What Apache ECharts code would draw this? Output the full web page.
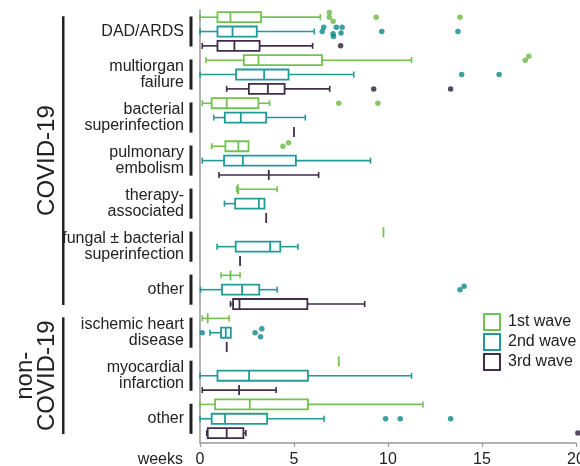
<!DOCTYPE html>
<html>
<head>
<meta charset="utf-8">
<script src="https://cdn.jsdelivr.net/npm/echarts@6/dist/echarts.min.js"></script>
<style>html,body{margin:0;padding:0;background:#fff}#c{width:580px;height:466px}</style>
</head>
<body>
<div id="c"></div>
<script>
// ---- data ----
const categories = ['DAD/ARDS', 'multiorgan\nfailure', 'bacterial\nsuperinfection', 'pulmonary\nembolism',
  'therapy-\nassociated', 'fungal ± bacterial\nsuperinfection', 'other',
  'ischemic heart\ndisease', 'myocardial\ninfarction', 'other'];
const groupNames = ['COVID-19', 'non-\nCOVID-19'];
const groupSizes = [7, 3];
const waves = ['1st wave', '2nd wave', '3rd wave'];
const xTicks = [0, 5, 10, 15, 20];

// [min, Q1, median, Q3, max] per category (null = not drawn)
const wave1 = [
  [0.0, 0.93, 1.62, 3.25, 6.4],
  [0.32, 2.33, 3.11, 6.49, 11.25],
  [0.12, 0.62, 1.42, 3.11, 3.7],
  [0.62, 1.35, 2.04, 2.58, 2.58],
  [1.95, null, 2.02, null, 4.1],
  [null, null, 9.76, null, null],
  [1.12, null, 1.62, null, 2.13],
  [0.12, null, 0.41, null, 1.55],
  [null, null, 7.38, null, null],
  [0.0, 0.8, 2.65, 5.74, 11.86]
];
const wave2 = [
  [0.0, 0.93, 1.73, 3.02, 6.08],
  [0.0, 1.92, 3.41, 4.71, 8.18],
  [0.73, 1.32, 2.17, 3.52, 5.6],
  [0.12, 1.28, 2.28, 5.1, 9.07],
  [1.3, 1.87, 3.13, 3.43, 3.43],
  [0.91, 1.9, 3.73, 4.27, 5.21],
  [0.03, 1.17, 2.24, 3.15, 4.11],
  [0.53, 1.12, 1.37, 1.64, 1.64],
  [0.0, 0.93, 2.61, 5.74, 11.25],
  [0.0, 0.62, 1.33, 3.57, 6.6]
];
const wave3 = [
  [0.12, 0.93, 1.83, 3.17, 5.99],
  [1.42, 2.6, 3.61, 4.5, 6.9],
  [null, null, 5.0, null, null],
  [1.01, null, 3.66, null, 6.31],
  [null, null, 3.52, null, null],
  [null, null, 2.13, null, null],
  [1.62, 1.76, 2.1, 5.71, 8.76],
  [null, null, 1.42, null, null],
  [0.12, null, 2.08, null, 4.05],
  [0.36, 0.41, 1.42, 2.31, 2.44]
];
// outliers: [category index, weeks]
const outliers1 = [[0, 6.88], [0, 6.88], [0, 7.08], [0, 9.37], [0, 13.83], [1, 17.3], [1, 17.49],
  [2, 7.38], [2, 9.46], [3, 4.41], [3, 4.71]];
const outliers2 = [[0, 6.58], [0, 6.5], [0, 7.25], [0, 7.56], [0, 7.08], [0, 7.1], [0, 7.5], [0, 9.67], [0, 13.72],
  [1, 13.92], [1, 15.91], [6, 13.83], [6, 14.05], [7, 0.12], [7, 2.93], [7, 3.29], [7, 3.22],
  [9, 9.87], [9, 10.65], [9, 13.33]];
const outliers3 = [[0, 7.48], [1, 9.24], [1, 13.33], [9, 20.1]];
// vertical jitter of overlapping outliers (in rows)
const jitter1 = [-0.32, 0, 0.28, 0, 0, 0, -0.28, 0, 0, 0, -0.24];
const jitter2 = [-0.3, 0, -0.3, -0.3, 0.15, 0.34, 0.1, 0, 0, 0, 0, 0, -0.24, 0, 0, -0.28, 0.28, 0, 0, 0];
const jitter3 = [0, 0, 0, 0];

// ---- styles ----
const boxColors = ['#72c24f', '#239a97', '#3f2d49'];
const dotColors = ['#6bb843', '#0b8886', '#2c1d36'];
const FONT = 'Liberation Sans, Arial, sans-serif';
const statsAll = [wave1, wave2, wave3];
const outAll = [outliers1, outliers2, outliers3];
const jitAll = [jitter1, jitter2, jitter3];

function makeRender(stats, color) {
  return function (params, api) {
    const row = api.value(0);
    const s = stats[params.dataIndex];
    const mn = s[0], q1 = s[1], md = s[2], q3 = s[3], mx = s[4];
    const y = api.coord([0, row])[1];
    const px = v => api.coord([v, row])[0];
    const bh = api.size([0, 0.7])[1];
    const ch = api.size([0, 0.42])[1];
    const ch_ = [];
    const hasBox = q1 != null && q3 != null;
    const lo = hasBox ? q1 : md, hi = hasBox ? q3 : md;
    function seg(x1, y1, x2, y2, w) {
      ch_.push({ type: 'line', shape: { x1, y1, x2, y2 }, style: { stroke: color, lineWidth: w || 1.6 } });
    }
    if (mn != null && mn < lo) {
      seg(px(mn), y, px(lo), y);
      seg(px(mn), y - ch / 2, px(mn), y + ch / 2);
    }
    if (mx != null && mx > hi) {
      seg(px(hi), y, px(mx), y);
      seg(px(mx), y - ch / 2, px(mx), y + ch / 2);
    }
    if (hasBox) {
      ch_.push({ type: 'rect', shape: { x: px(q1), y: y - bh / 2, width: px(q3) - px(q1), height: bh },
        style: { stroke: color, lineWidth: 1.8, fill: 'rgba(255,255,255,0)' } });
    }
    if (md != null) seg(px(md), y - bh / 2, px(md), y + bh / 2, 1.8);
    return { type: 'group', children: ch_ };
  };
}

const series = [];
waves.forEach((w, wi) => {
  series.push({
    name: w, type: 'custom', clip: false,
    itemStyle: { color: boxColors[wi] },
    encode: { x: 1, y: 0 },
    renderItem: makeRender(statsAll[wi], boxColors[wi]),
    data: statsAll[wi].map((s, ci) => [ci * 3 + wi, s[2]])
  });
  series.push({
    name: w, type: 'scatter', clip: false, symbolSize: 5.5,
    itemStyle: { color: dotColors[wi] },
    data: outAll[wi].map((o, k) => [o[1], o[0] * 3 + wi + jitAll[wi][k]])
  });
});

// category bars
series.push({
  type: 'custom', clip: false, silent: true,
  renderItem: function (params, api) {
    const c = api.value(0);
    const p1 = api.coord([0, c * 3 - 0.05]);
    const p2 = api.coord([0, c * 3 + 2.05]);
    return { type: 'rect', shape: { x: p1[0] - 10.5, y: p1[1], width: 3, height: p2[1] - p1[1] },
      style: { fill: '#222' } };
  },
  data: categories.map((c, i) => [i])
});
// group lines + labels
const groupStart = [];
groupSizes.reduce((acc, n) => { groupStart.push(acc); return acc + n; }, 0);
series.push({
  type: 'custom', clip: false, silent: true,
  renderItem: function (params, api) {
    const gi = params.dataIndex;
    const r0 = groupStart[gi] * 3, r1 = (groupStart[gi] + groupSizes[gi]) * 3 - 1;
    const p1 = api.coord([0, r0]);
    const p2 = api.coord([0, r1]);
    const lx = p1[0] - 138;
    return { type: 'group', children: [
      { type: 'rect', shape: { x: lx, y: p1[1] - 1, width: 2.5, height: p2[1] - p1[1] + 2 }, style: { fill: '#222' } },
      { type: 'text', x: lx - 3, y: (p1[1] + p2[1]) / 2, rotation: Math.PI / 2,
        style: { text: groupNames[gi], x: 0, y: 0, align: 'center', verticalAlign: 'bottom',
          font: '24px ' + FONT, lineHeight: 22.5, fill: '#222' } }
    ] };
  },
  data: groupNames.map((g, i) => [i])
});

const chart = echarts.init(document.getElementById('c'), null, { renderer: 'canvas' });
chart.setOption({
  animation: false,
  backgroundColor: '#fff',
  textStyle: { fontFamily: FONT },
  grid: { left: 200, right: 4, top: 10, bottom: 23, containLabel: false, outerBoundsMode: 'none' },
  legend: {
    orient: 'vertical', left: 483, top: 313, padding: 0,
    itemWidth: 16, itemHeight: 16, itemGap: 2,
    textStyle: { fontSize: 16, lineHeight: 16, color: '#222', fontFamily: FONT, padding: [0, 0, 0, 3] },
    data: waves.map((w, i) => ({ name: w, icon: 'rect',
      itemStyle: { color: 'rgba(255,255,255,0)', borderColor: boxColors[i], borderWidth: 2 } }))
  },
  xAxis: {
    type: 'value', position: 'bottom', min: xTicks[0], max: xTicks[xTicks.length - 1], interval: 5,
    name: 'weeks', nameLocation: 'start', nameGap: 17,
    nameTextStyle: { fontSize: 16, color: '#222', verticalAlign: 'top', padding: [9, 0, 0, 0] },
    axisLine: { onZero: false, lineStyle: { color: '#9a9a9a', width: 1.5 } },
    axisTick: { show: true, length: 4, lineStyle: { color: '#9a9a9a', width: 1.2 } },
    axisLabel: { fontSize: 16, color: '#222', margin: 9 },
    splitLine: { show: false }
  },
  yAxis: {
    type: 'value', inverse: true, min: -0.5, max: 29.69, interval: 0.5,
    axisLine: { show: true, onZero: false, lineStyle: { color: '#9a9a9a', width: 1.5 } },
    axisTick: { show: false },
    splitLine: { show: false },
    axisLabel: {
      fontSize: 16, color: '#222', margin: 16, lineHeight: 15.5, align: 'right',
      formatter: function (v) {
        const r = Math.round(v * 2) / 2;
        if (Number.isInteger(r) && r % 3 === 1) return categories[(r - 1) / 3] || '';
        return '';
      }
    }
  },
  series: series
});
</script>
</body>
</html>
